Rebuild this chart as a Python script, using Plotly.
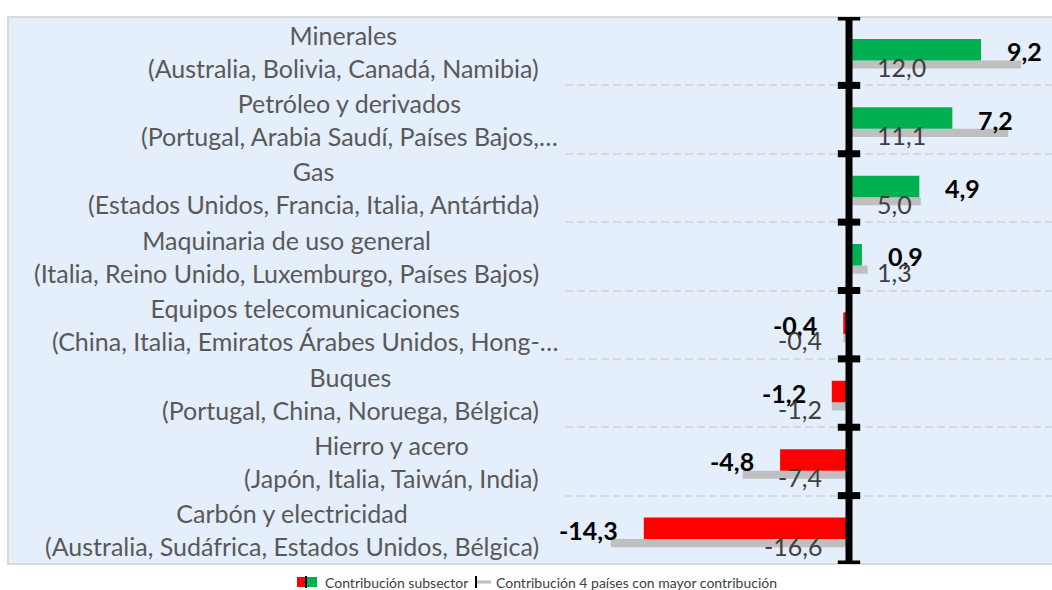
import plotly.graph_objects as go

# ---- data ----
subsectores = [
    "Minerales",
    "Petróleo y derivados",
    "Gas",
    "Maquinaria de uso general",
    "Equipos telecomunicaciones",
    "Buques",
    "Hierro y acero",
    "Carbón y electricidad",
]
paises = [
    "(Australia, Bolivia, Canadá, Namibia)",
    "(Portugal, Arabia Saudí, Países Bajos,…",
    "(Estados Unidos, Francia, Italia, Antártida)",
    "(Italia, Reino Unido, Luxemburgo, Países Bajos)",
    "(China, Italia, Emiratos Árabes Unidos, Hong-…",
    "(Portugal, China, Noruega, Bélgica)",
    "(Japón, Italia, Taiwán, India)",
    "(Australia, Sudáfrica, Estados Unidos, Bélgica)",
]
contrib_subsector = [9.2, 7.2, 4.9, 0.9, -0.4, -1.2, -4.8, -14.3]
contrib_4_paises = [12.0, 11.1, 5.0, 1.3, -0.4, -1.2, -7.4, -16.6]

# ---- style ----
W, H = 1052, 590
T, B = 17, 26
PLOT_H = H - T - B
X_LEFT_PX = 565
ZERO_PX = 849
PX_PER_UNIT = 14.35
GREEN, RED, GRAY = "#00B050", "#FF0000", "#BFBFBF"
BG = "#E5EEFB"
FONT = "Lato"


def fmt(v):
    return f"{v:.1f}".replace(".", ",")


def py(px):
    # pixel y -> paper y
    return (H - B - px) / PLOT_H


def pxx(px):
    return px / W


n = len(subsectores)
idx = list(range(n))
x_range = [-(ZERO_PX - X_LEFT_PX) / PX_PER_UNIT, (W - ZERO_PX) / PX_PER_UNIT]

fig = go.Figure()

fig.add_trace(go.Bar(
    x=contrib_4_paises, y=idx, orientation="h",
    marker=dict(color=GRAY, line=dict(width=0)),
    offset=0.135, width=0.12, showlegend=False, hoverinfo="skip",
))
fig.add_trace(go.Bar(
    x=contrib_subsector, y=idx, orientation="h",
    marker=dict(color=[GREEN if v >= 0 else RED for v in contrib_subsector], line=dict(width=0)),
    offset=-0.18, width=0.315, showlegend=False, hoverinfo="skip",
))
# vertical axis with category tick marks
bounds = [i - 0.5 for i in range(n + 1)]
fig.add_trace(go.Scatter(
    x=[0] * len(bounds), y=bounds, mode="lines+markers",
    line=dict(color="black", width=7),
    marker=dict(symbol="line-ew", size=16, line=dict(color="black", width=7)),
    cliponaxis=True, showlegend=False, hoverinfo="skip",
))

annotations = []
for i in idx:
    lab = f"{subsectores[i]}<br>{paises[i]}"
    annotations.append(dict(
        text=lab, xref="paper", yref="y", x=pxx(541), y=i,
        xanchor="right", yanchor="middle", align="center", showarrow=False,
        xshift=19 if paises[i].endswith("…") else 0,
        font=dict(family=FONT, size=25, color="#595959"),
    ))
    v = contrib_subsector[i]
    annotations.append(dict(
        text=f"<b>{fmt(v)}</b>", xref="x", yref="y", x=v, y=i,
        xanchor="left" if v >= 0 else "right", yanchor="middle",
        xshift=24 if v >= 0 else -24, yshift=0, showarrow=False,
        font=dict(family=FONT, size=25, color="black"),
    ))
    g = contrib_4_paises[i]
    annotations.append(dict(
        text=fmt(g), xref="x", yref="y", x=0, y=i + 0.23,
        xanchor="left" if g >= 0 else "right", yanchor="middle",
        xshift=26 if g >= 0 else -25, showarrow=False,
        font=dict(family=FONT, size=25, color="#404040"),
    ))

# legend text
annotations.append(dict(
    text="Contribución subsector", xref="paper", yref="paper",
    x=pxx(323), y=py(582), xanchor="left", yanchor="middle", showarrow=False,
    font=dict(family=FONT, size=14, color="#404040"),
))
annotations.append(dict(
    text="Contribución 4 países con mayor contribución", xref="paper", yref="paper",
    x=pxx(494), y=py(582), xanchor="left", yanchor="middle", showarrow=False,
    font=dict(family=FONT, size=14, color="#404040"),
))

shapes = [
    dict(type="rect", xref="paper", yref="paper", x0=pxx(8), x1=1.02, y0=0, y1=1,
         fillcolor=BG, line=dict(color="#D9D9D9", width=2), layer="below"),
    dict(type="rect", xref="paper", yref="paper", x0=pxx(297), x1=pxx(305),
         y0=py(587), y1=py(577), fillcolor=RED, line=dict(width=0)),
    dict(type="rect", xref="paper", yref="paper", x0=pxx(307), x1=pxx(317),
         y0=py(587), y1=py(577), fillcolor=GREEN, line=dict(width=0)),
    dict(type="line", xref="paper", yref="paper", x0=pxx(306), x1=pxx(306),
         y0=py(588), y1=py(576), line=dict(color="black", width=2)),
    dict(type="line", xref="paper", yref="paper", x0=pxx(476), x1=pxx(476),
         y0=py(588), y1=py(576), line=dict(color="black", width=2)),
    dict(type="line", xref="paper", yref="paper", x0=pxx(477), x1=pxx(491),
         y0=py(582), y1=py(582), line=dict(color=GRAY, width=3)),
]

fig.update_layout(
    width=W, height=H,
    margin=dict(l=0, r=0, t=T, b=B),
    paper_bgcolor="white", plot_bgcolor="rgba(0,0,0,0)",
    barmode="overlay",
    xaxis=dict(domain=[X_LEFT_PX / W, 1], range=x_range, showgrid=False,
               zeroline=False, showticklabels=False, ticks="", fixedrange=True),
    yaxis=dict(range=[n - 0.5, -0.5], tickvals=[i + 0.5 for i in range(n - 1)],
               showticklabels=False, ticks="", showgrid=True, gridcolor="#D9D9D9",
               gridwidth=2, griddash="8px,4px", zeroline=False, fixedrange=True),
    annotations=annotations, shapes=shapes, showlegend=False,
)

fig.write_html("out.html")
